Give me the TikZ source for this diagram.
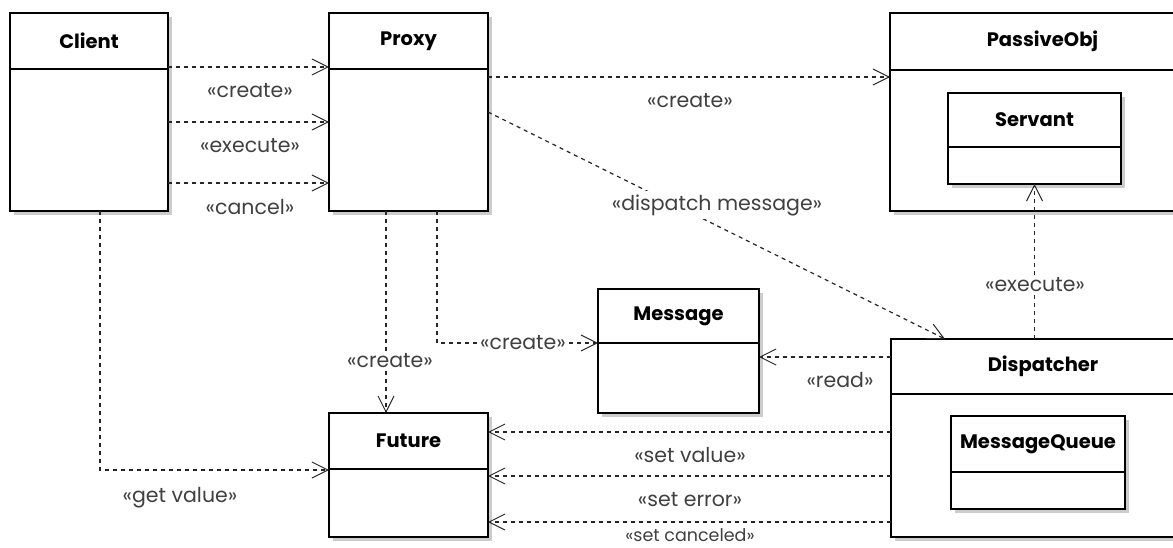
\documentclass[tikz,border=0pt]{standalone}
\usepackage{fontspec}
\setmainfont{Poppins}
\usetikzlibrary{arrows.meta,fit,calc}

\tikzset{
  boxframe/.style={draw=black, line width=1.4pt, fill=white, inner sep=0pt, outer sep=0pt},
  boxshadow/.style={fill=black!20},
  sepline/.style={draw=black, line width=1.2pt},
  dep/.style={draw=black!85, line width=1.2pt, dash pattern=on 4pt off 4pt,
    -{Straight Barb[length=16pt,width=16pt,line width=1pt]}},
  lbl/.style={font=\fontsize{20.5}{20.5}\selectfont, text=black!75, inner sep=2pt},
  lblbg/.style={lbl, fill=white, inner sep=3pt},
  clstitle/.style={font=\fontsize{19.5}{19.5}\selectfont\bfseries},
}

% class box: name, x1, y1, x2, y2, y of the title rule, title
\newcommand\UmlClass[7]{%
  \fill[boxshadow] ({#2+4},{#3+4}) rectangle ({#4+4},{#5+4});
  \node[boxframe, fit={(#2,#3) (#4,#5)}] (#1) {};
  \draw[sepline] (#2,#6) -- (#4,#6);
  \node[clstitle] (#1-t) at ({(#2+#4)/2},{(#3+#6)/2}) {#7};
}

\begin{document}
\begin{tikzpicture}[x=1pt,y=-1pt]
\useasboundingbox (0,0) rectangle (1173,548);
\clip (0,0) rectangle (1173,548);
\fill[white] (0,0) rectangle (1173,548);

% classes
\UmlClass{client}{10}{13}{168}{211}{69}{Client}
\UmlClass{proxy}{329}{13}{488}{211}{69}{Proxy}
\UmlClass{passive}{890}{13}{1195}{211}{70}{PassiveObj}
\UmlClass{servant}{948}{93}{1121}{184}{147}{Servant}
\UmlClass{message}{598}{289}{759}{413}{343}{Message}
\UmlClass{disp}{891}{339}{1195}{537}{394}{Dispatcher}
\UmlClass{mqueue}{951}{416}{1125}{509}{472}{MessageQueue}
\UmlClass{future}{329}{413}{488}{537}{469}{Future}

% Client -> Proxy
\draw[dep] ([yshift=-54pt]client.north east) -- ([yshift=-54pt]proxy.north west);
\draw[dep] ([yshift=-109pt]client.north east) -- ([yshift=-109pt]proxy.north west);
\draw[dep] ([yshift=-170pt]client.north east) -- ([yshift=-170pt]proxy.north west);
\node[lbl] (l-create1) at (250,91) {«create»};
\node[lbl] (l-execute1) at (250,146) {«execute»};
\node[lbl] (l-cancel) at (250,207) {«cancel»};

% Proxy -> PassiveObj
\draw[dep] ([yshift=-64pt]proxy.north east) -- ([yshift=-64pt]passive.north west);
\node[lbl] (l-create2) at (690,101) {«create»};

% Proxy -> Dispatcher
\draw[dep] ([yshift=-99pt]proxy.north east) -- ([xshift=54pt]disp.north west);
\node[lblbg] (l-dispatch) at (717,205) {«dispatch message»};

% Dispatcher -> Servant
\draw[dep] (disp.north -| servant.south) -- (servant.south);
\node[lblbg] (l-execute2) at (1035,285) {«execute»};

% Proxy -> Future, Proxy -> Message
\draw[dep] ([xshift=57pt]proxy.south west) -- ([xshift=57pt]future.north west);
\node[lblbg] (l-create3) at (390,361) {«create»};
\draw[dep] ([xshift=108pt]proxy.south west) |- ([yshift=-54pt]message.north west);
\node[lblbg] (l-create4) at (523,343) {«create»};

% Client -> Future
\draw[dep] ([xshift=90pt]client.south west) |- ([yshift=-57pt]future.north west);
\node[lbl] (l-get) at (180,498) {«get value»};

% Dispatcher -> Message
\draw[dep] ([yshift=-18pt]disp.north west) -- ([yshift=-68pt]message.north east);
\node[lbl] (l-read) at (840,380) {«read»};

% Dispatcher -> Future
\draw[dep] ([yshift=-93pt]disp.north west) -- ([yshift=-19pt]future.north east);
\draw[dep] ([yshift=-137pt]disp.north west) -- ([yshift=-63pt]future.north east);
\draw[dep] ([yshift=-183pt]disp.north west) -- ([yshift=-109pt]future.north east);
\node[lbl] (l-setvalue) at (690,455) {«set value»};
\node[lbl] (l-seterror) at (690,500) {«set error»};
\node[lbl, font=\fontsize{17.5}{17.5}\selectfont, inner sep=0pt] (l-setcancel) at (690,535) {«set canceled»};
\end{tikzpicture}
\end{document}
